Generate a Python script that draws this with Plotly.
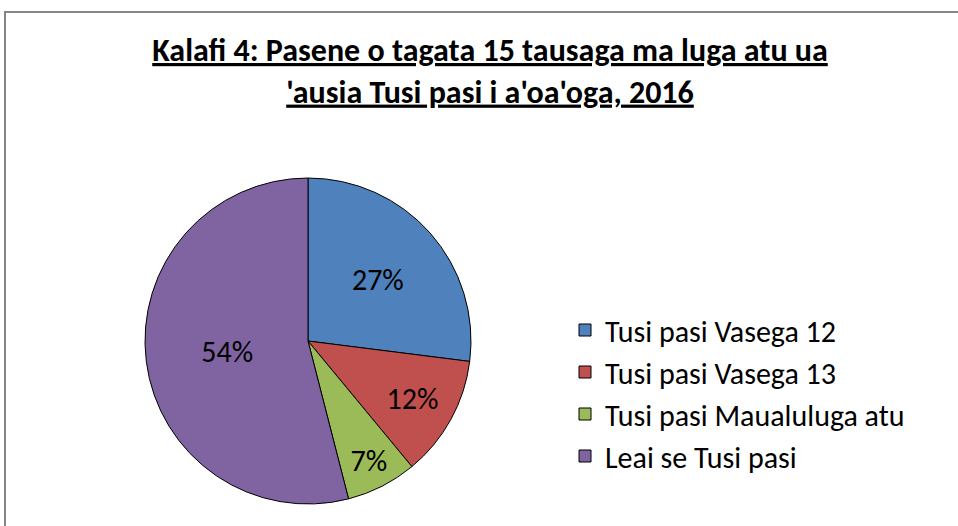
import plotly.graph_objects as go

# Chart data
TITLE = "Kalafi 4: Pasene o tagata 15 tausaga ma luga atu ua<br>'ausia Tusi pasi i a'oa'oga, 2016"
LABELS = ['Tusi pasi Vasega 12', 'Tusi pasi Vasega 13', 'Tusi pasi Maualuluga atu', 'Leai se Tusi pasi']
VALUES = [27, 12, 7, 54]
COLORS = ['#4F81BD', '#C0504D', '#9BBB59', '#8064A2']

FONT = "Carlito, Calibri, 'Liberation Sans Narrow', 'Open Sans', sans-serif"

W, H = 958, 526


def px_x(x):
	return x / W


def px_y(y):
	return (H - y) / H


fig = go.Figure(go.Pie(
	labels=LABELS,
	values=VALUES,
	sort=False,
	direction='clockwise',
	rotation=0,
	marker=dict(colors=COLORS, line=dict(color='black', width=1)),
	texttemplate='%{percent:.0%}',
	textposition='inside',
	insidetextorientation='horizontal',
	textfont=dict(family=FONT, size=30, color='black'),
	domain=dict(x=[px_x(145), px_x(471)], y=[px_y(504), px_y(178)]),
	hoverinfo='label+percent',
))

fig.update_layout(
	width=W, height=H,
	margin=dict(l=0, r=0, t=0, b=0),
	paper_bgcolor='white',
	plot_bgcolor='white',
	font=dict(family=FONT, color='black'),
	uniformtext=dict(minsize=30, mode='show'),
	title=dict(
		text='<b><u>' + TITLE + '</u></b>',
		x=px_x(490), xanchor='center',
		y=px_y(61), yanchor='top',
		font=dict(family=FONT, size=32, color='black'),
	),
	legend=dict(
		x=px_x(565), xanchor='left',
		y=px_y(304), yanchor='top',
		font=dict(family=FONT, size=30, color='black'),
		tracegroupgap=0,
		itemwidth=30,
	),
	shapes=[dict(
		type='rect', xref='paper', yref='paper',
		x0=px_x(5), x1=1.02, y0=-0.02, y1=px_y(12),
		line=dict(color='#868686', width=2),
	)],
)

# the page's default body margin would shift the chart, drop it
fig.write_html("out.html", config={'displayModeBar': False},
	post_script="document.body.style.margin='0';document.body.style.overflow='hidden';")
